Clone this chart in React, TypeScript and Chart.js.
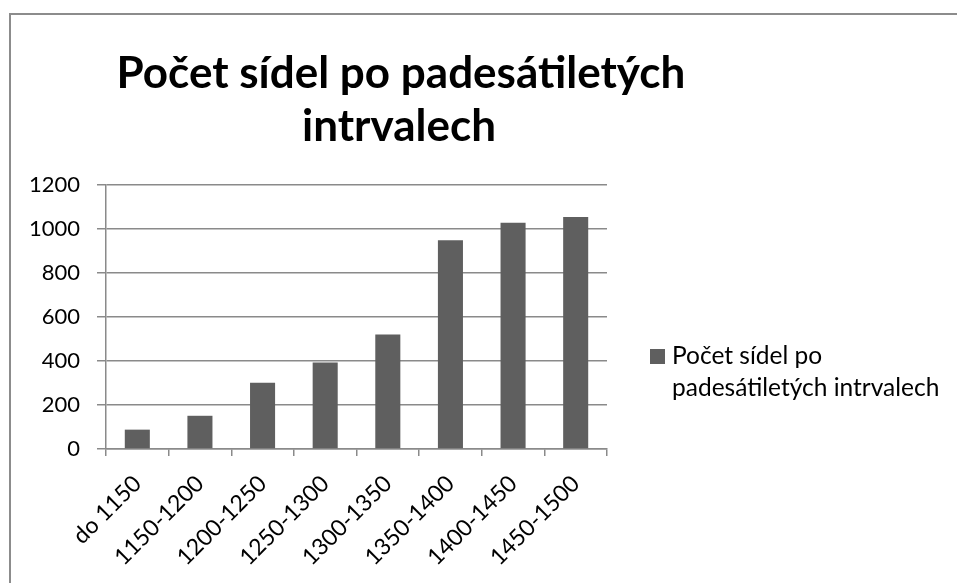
import React, { useEffect, useRef } from 'react';
import { Chart, registerables } from 'chart.js';

Chart.register(...registerables);

const CATEGORIES = ['do 1150', '1150-1200', '1200-1250', '1250-1300', '1300-1350', '1350-1400', '1400-1450', '1450-1500'];
const VALUES = [88, 151, 301, 393, 521, 949, 1028, 1055];
const SERIES_LABEL = 'Počet sídel po padesátiletých intrvalech';
const TITLE_LINES = ['Počet sídel po padesátiletých', 'intrvalech'];
const LEGEND_LINES = ['Počet sídel po', 'padesátiletých intrvalech'];
const Y_MIN = 0;
const Y_MAX = 1200;
const Y_STEP = 200;

const FONT = 'Lato, "Open Sans", sans-serif';
const BAR_COLOR = '#5f5f5f';
const GRID_COLOR = '#8a8a8a';

const decorPlugin = {
  id: 'decor',
  beforeDraw(chart: any) {
    const ctx = chart.ctx;
    ctx.save();
    ctx.fillStyle = '#ffffff';
    ctx.fillRect(0, 0, chart.width, chart.height);
    ctx.restore();
  },
  afterDraw(chart: any) {
    const ctx = chart.ctx;
    ctx.save();
    ctx.strokeStyle = '#8c8c8c';
    ctx.lineWidth = 2;
    ctx.beginPath();
    ctx.moveTo(10, 2000);
    ctx.lineTo(10, 14);
    ctx.lineTo(2000, 14);
    ctx.stroke();

    ctx.fillStyle = '#000000';
    ctx.font = `bold 44px ${FONT}`;
    ctx.textAlign = 'center';
    ctx.textBaseline = 'alphabetic';
    ctx.fillText(TITLE_LINES[0], 401, 88);
    ctx.fillText(TITLE_LINES[1], 399, 141);

    const ds = chart.data.datasets[0];
    ctx.fillStyle = ds.backgroundColor;
    ctx.fillRect(650, 349, 15, 15);
    ctx.fillStyle = '#000000';
    ctx.font = `24.5px ${FONT}`;
    ctx.textAlign = 'left';
    ctx.fillText(LEGEND_LINES[0], 672, 364);
    ctx.fillText(LEGEND_LINES[1], 672, 396);
    ctx.restore();
  },
};

export default function App() {
  const ref = useRef<HTMLCanvasElement | null>(null);

  useEffect(() => {
    if (!ref.current) return;
    const chart = new Chart(ref.current, {
      type: 'bar',
      data: {
        labels: CATEGORIES,
        datasets: [
          {
            label: SERIES_LABEL,
            data: VALUES,
            backgroundColor: BAR_COLOR,
            borderWidth: 0,
            barPercentage: 0.4,
            categoryPercentage: 1.0,
          },
        ],
      },
      options: {
        animation: false,
        responsive: false,
        devicePixelRatio: 1,
        layout: { padding: { top: 185, right: 350, bottom: 0, left: 0 } },
        plugins: {
          legend: { display: false },
          title: { display: false },
          tooltip: { enabled: false },
        },
        scales: {
          x: {
            afterFit(scale: any) {
              scale.height = 134;
            },
            grid: {
              display: true,
              drawOnChartArea: false,
              drawTicks: true,
              tickLength: 7,
              color: GRID_COLOR,
              lineWidth: 1.5,
              offset: true,
            },
            border: { display: true, color: GRID_COLOR, width: 1.5 },
            ticks: {
              minRotation: 45,
              maxRotation: 45,
              padding: 14,
              color: '#000000',
              font: { family: FONT, size: 23 },
            },
          },
          y: {
            min: Y_MIN,
            max: Y_MAX,
            afterFit(scale: any) {
              scale.width = 106;
            },
            ticks: {
              stepSize: Y_STEP,
              padding: 17,
              color: '#000000',
              font: { family: FONT, size: 22 },
              callback: (v: any) => String(v),
            },
            grid: {
              color: GRID_COLOR,
              lineWidth: 1.5,
              tickLength: 9,
              drawTicks: true,
            },
            border: { display: true, color: GRID_COLOR, width: 1.5 },
          },
        },
      },
      plugins: [decorPlugin],
    });
    return () => chart.destroy();
  }, []);

  return (
    <div style={{ position: 'fixed', left: 0, top: 0, width: 957, height: 583, background: '#ffffff' }}>
      <canvas ref={ref} width={957} height={583} style={{ display: 'block', width: 957, height: 583 }} />
    </div>
  );
}
